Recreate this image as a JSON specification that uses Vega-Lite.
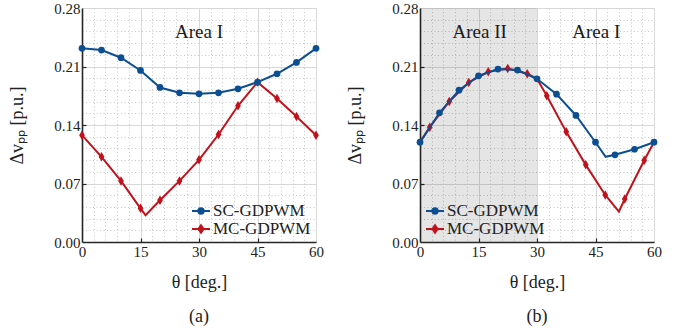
{
  "$schema": "https://vega.github.io/schema/vega-lite/v6.json",
  "background": "white",
  "padding": {"left": 8, "top": 0, "right": 5, "bottom": 5},
  "config": {
    "font": "Liberation Serif",
    "style": {
      "guide-label": {"font": "Liberation Serif"},
      "guide-title": {"font": "Liberation Serif"}
    },
    "view": {"stroke": "#d4d4d4", "strokeWidth": 1},
    "axis": {
      "labelFont": "Liberation Serif",
      "labelFontSize": 15,
      "labelColor": "#222222",
      "labelOverlap": false,
      "labelFlush": false,
      "titleFont": "Liberation Serif",
      "titleFontSize": 18,
      "titleFontWeight": "normal",
      "titleColor": "#222222",
      "domainColor": "#262626",
      "domainWidth": 1.6,
      "tickColor": "#262626",
      "tickWidth": 1.2,
      "tickSize": -4,
      "labelPadding": 6,
      "grid": true,
      "gridWidth": 1
    },
    "legend": {
      "labelFont": "Liberation Serif",
      "labelFontSize": 17,
      "labelColor": "#222222",
      "symbolSize": 324,
      "rowPadding": 0,
      "padding": 0,
      "labelOffset": 2
    },
    "title": {"font": "Liberation Serif", "fontSize": 18, "fontWeight": "normal", "color": "#222222"}
  },
  "datasets": {
    "curvesA": [
      {"series": "SC-GDPWM", "theta": 0, "dv": 0.2317, "marker": true},
      {"series": "SC-GDPWM", "theta": 5, "dv": 0.2297, "marker": true},
      {"series": "SC-GDPWM", "theta": 10, "dv": 0.2205, "marker": true},
      {"series": "SC-GDPWM", "theta": 15, "dv": 0.2053, "marker": true},
      {"series": "SC-GDPWM", "theta": 20, "dv": 0.1849, "marker": true},
      {"series": "SC-GDPWM", "theta": 25, "dv": 0.1785, "marker": true},
      {"series": "SC-GDPWM", "theta": 30, "dv": 0.1773, "marker": true},
      {"series": "SC-GDPWM", "theta": 35, "dv": 0.1785, "marker": true},
      {"series": "SC-GDPWM", "theta": 40, "dv": 0.1833, "marker": true},
      {"series": "SC-GDPWM", "theta": 45, "dv": 0.1913, "marker": true},
      {"series": "SC-GDPWM", "theta": 50, "dv": 0.2013, "marker": true},
      {"series": "SC-GDPWM", "theta": 55, "dv": 0.2149, "marker": true},
      {"series": "SC-GDPWM", "theta": 60, "dv": 0.2317, "marker": true},
      {"series": "MC-GDPWM", "theta": 0, "dv": 0.1278, "marker": true},
      {"series": "MC-GDPWM", "theta": 5, "dv": 0.1019, "marker": true},
      {"series": "MC-GDPWM", "theta": 10, "dv": 0.0731, "marker": true},
      {"series": "MC-GDPWM", "theta": 15, "dv": 0.0403, "marker": true},
      {"series": "MC-GDPWM", "theta": 16.3, "dv": 0.032, "marker": false},
      {"series": "MC-GDPWM", "theta": 20, "dv": 0.0499, "marker": true},
      {"series": "MC-GDPWM", "theta": 25, "dv": 0.0731, "marker": true},
      {"series": "MC-GDPWM", "theta": 30, "dv": 0.0983, "marker": true},
      {"series": "MC-GDPWM", "theta": 35, "dv": 0.1286, "marker": true},
      {"series": "MC-GDPWM", "theta": 40, "dv": 0.163, "marker": true},
      {"series": "MC-GDPWM", "theta": 45, "dv": 0.1913, "marker": true},
      {"series": "MC-GDPWM", "theta": 50, "dv": 0.1718, "marker": true},
      {"series": "MC-GDPWM", "theta": 55, "dv": 0.1502, "marker": true},
      {"series": "MC-GDPWM", "theta": 60, "dv": 0.1278, "marker": true}
    ],
    "curvesB": [
      {"series": "SC-GDPWM", "theta": 0, "dv": 0.1194, "marker": true},
      {"series": "SC-GDPWM", "theta": 5, "dv": 0.1546, "marker": true},
      {"series": "SC-GDPWM", "theta": 10, "dv": 0.1817, "marker": true},
      {"series": "SC-GDPWM", "theta": 15, "dv": 0.1989, "marker": true},
      {"series": "SC-GDPWM", "theta": 20, "dv": 0.2069, "marker": true},
      {"series": "SC-GDPWM", "theta": 25, "dv": 0.2057, "marker": true},
      {"series": "SC-GDPWM", "theta": 30, "dv": 0.1953, "marker": true},
      {"series": "SC-GDPWM", "theta": 35, "dv": 0.1769, "marker": true},
      {"series": "SC-GDPWM", "theta": 40, "dv": 0.1514, "marker": true},
      {"series": "SC-GDPWM", "theta": 45, "dv": 0.1194, "marker": true},
      {"series": "SC-GDPWM", "theta": 47.6, "dv": 0.1019, "marker": false},
      {"series": "SC-GDPWM", "theta": 50, "dv": 0.1043, "marker": true},
      {"series": "SC-GDPWM", "theta": 55, "dv": 0.111, "marker": true},
      {"series": "SC-GDPWM", "theta": 60, "dv": 0.1194, "marker": true},
      {"series": "MC-GDPWM", "theta": 0, "dv": 0.1194, "marker": false},
      {"series": "MC-GDPWM", "theta": 2.5, "dv": 0.1374, "marker": true},
      {"series": "MC-GDPWM", "theta": 7.5, "dv": 0.1682, "marker": true},
      {"series": "MC-GDPWM", "theta": 12.5, "dv": 0.1909, "marker": true},
      {"series": "MC-GDPWM", "theta": 17.5, "dv": 0.2037, "marker": true},
      {"series": "MC-GDPWM", "theta": 22.5, "dv": 0.2077, "marker": true},
      {"series": "MC-GDPWM", "theta": 27.5, "dv": 0.2013, "marker": true},
      {"series": "MC-GDPWM", "theta": 30, "dv": 0.1953, "marker": false},
      {"series": "MC-GDPWM", "theta": 32.5, "dv": 0.1749, "marker": true},
      {"series": "MC-GDPWM", "theta": 37.5, "dv": 0.1318, "marker": true},
      {"series": "MC-GDPWM", "theta": 42.5, "dv": 0.0923, "marker": true},
      {"series": "MC-GDPWM", "theta": 47.5, "dv": 0.0563, "marker": true},
      {"series": "MC-GDPWM", "theta": 51, "dv": 0.0363, "marker": false},
      {"series": "MC-GDPWM", "theta": 52.5, "dv": 0.0515, "marker": true},
      {"series": "MC-GDPWM", "theta": 57.5, "dv": 0.0979, "marker": true},
      {"series": "MC-GDPWM", "theta": 60, "dv": 0.1194, "marker": false}
    ],
    "labelsA": [{"theta": 30, "dv": 0.251, "label": "Area I"}],
    "labelsB": [
      {"theta": 15.3, "dv": 0.251, "label": "Area II"},
      {"theta": 45.2, "dv": 0.251, "label": "Area I"}
    ],
    "bandB": [{"from": 0, "to": 30}]
  },
  "resolve": {"legend": {"color": "independent"}},
  "spacing": 22,
  "hconcat": [
    {
      "width": 234,
      "height": 234,
      "title": {"text": "(a)", "orient": "bottom", "offset": 17},
      "layer": [
        {
          "data": {"name": "curvesA"},
          "transform": [{"filter": "datum.series === 'MC-GDPWM'"}],
          "mark": {"type": "line", "strokeWidth": 2},
          "encoding": {
            "x": {
              "field": "theta", "type": "quantitative", "title": "θ [deg.]",
              "scale": {"domain": [0, 60], "nice": false},
              "axis": {
                "values": [0, 3, 6, 9, 12, 15, 18, 21, 24, 27, 30, 33, 36, 39, 42, 45, 48, 51, 54, 57, 60],
                "tickCount": 40,
                "labelOverlap": false,
                "labelFont": "Liberation Serif",
                "titleFont": "Liberation Serif",
                "labelExpr": "indexof([0, 15, 30, 45, 60], datum.value) >= 0 ? datum.label : ''",
                "tickOpacity": {"condition": {"test": "indexof([15, 30, 45], datum.value) >= 0", "value": 1}, "value": 0},
                "gridDash": {"condition": {"test": "indexof([0, 15, 30, 45, 60], datum.value) >= 0", "value": []}, "value": [1, 2.5]},
                "gridColor": {"condition": {"test": "indexof([0, 15, 30, 45, 60], datum.value) >= 0", "value": "#d8d8d8"}, "value": "#c8c8c8"},
                "titlePadding": 14
              }
            },
            "y": {
              "field": "dv", "type": "quantitative", "title": "Δvₚₚ [p.u.]",
              "scale": {"domain": [0, 0.28], "nice": false},
              "axis": {
                "values": [0, 0.014, 0.028, 0.042, 0.056, 0.07, 0.084, 0.098, 0.112, 0.126, 0.14, 0.154, 0.168, 0.182, 0.196, 0.21, 0.224, 0.238, 0.252, 0.266, 0.28],
                "tickCount": 40,
                "format": ".2f",
                "labelOverlap": false,
                "labelFont": "Liberation Serif",
                "titleFont": "Liberation Serif",
                "labelExpr": "indexof([0, 0.07, 0.14, 0.21, 0.28], datum.value) >= 0 ? datum.label : ''",
                "tickOpacity": {"condition": {"test": "indexof([0.07, 0.14, 0.21], datum.value) >= 0", "value": 1}, "value": 0},
                "gridDash": {"condition": {"test": "indexof([0, 0.07, 0.14, 0.21, 0.28], datum.value) >= 0", "value": []}, "value": [1, 2.5]},
                "gridColor": {"condition": {"test": "indexof([0, 0.07, 0.14, 0.21, 0.28], datum.value) >= 0", "value": "#d8d8d8"}, "value": "#c8c8c8"},
                "titlePadding": 27
              }
            },
            "color": {
              "field": "series", "type": "nominal",
              "scale": {"domain": ["SC-GDPWM", "MC-GDPWM"], "range": ["#0c4e92", "#c1121c"]},
              "legend": {
                "orient": "bottom-right", "title": null, "offset": 5,
                "encode": {
                  "symbols": {
                    "update": {
                      "shape": {"signal": "datum.value === 'SC-GDPWM' ? 'M-1,0H1M0.3,0A0.3,0.3 0 1 1 -0.3,0A0.3,0.3 0 1 1 0.3,0Z' : 'M-1,0H1M0,-0.42L0.28,0L0,0.42L-0.28,0Z'"},
                      "fill": {"signal": "datum.value === 'SC-GDPWM' ? '#0c4e92' : '#c1121c'"},
                      "stroke": {"signal": "datum.value === 'SC-GDPWM' ? '#0c4e92' : '#c1121c'"},
                      "strokeWidth": {"value": 2},
                      "opacity": {"value": 1}
                    }
                  }
                }
              }
            }
          }
        },
        {
          "data": {"name": "curvesA"},
          "transform": [{"filter": "datum.series === 'MC-GDPWM' && datum.marker"}],
          "mark": {"type": "point", "filled": true, "opacity": 1, "shape": "M0,-1L0.6,0L0,1L-0.6,0Z", "size": 90},
          "encoding": {
            "x": {"field": "theta", "type": "quantitative"},
            "y": {"field": "dv", "type": "quantitative"},
            "color": {"field": "series", "type": "nominal"}
          }
        },
        {
          "data": {"name": "curvesA"},
          "transform": [{"filter": "datum.series === 'SC-GDPWM'"}],
          "mark": {"type": "line", "strokeWidth": 2},
          "encoding": {
            "x": {"field": "theta", "type": "quantitative"},
            "y": {"field": "dv", "type": "quantitative"},
            "color": {"field": "series", "type": "nominal"}
          }
        },
        {
          "data": {"name": "curvesA"},
          "transform": [{"filter": "datum.series === 'SC-GDPWM' && datum.marker"}],
          "mark": {"type": "point", "filled": true, "opacity": 1, "shape": "circle", "size": 45},
          "encoding": {
            "x": {"field": "theta", "type": "quantitative"},
            "y": {"field": "dv", "type": "quantitative"},
            "color": {"field": "series", "type": "nominal"}
          }
        },
        {
          "data": {"name": "labelsA"},
          "mark": {"type": "text", "fontSize": 19, "font": "Liberation Serif", "color": "#1a1a1a"},
          "encoding": {
            "x": {"field": "theta", "type": "quantitative"},
            "y": {"field": "dv", "type": "quantitative"},
            "text": {"field": "label"}
          }
        }
      ]
    },
    {
      "width": 234,
      "height": 234,
      "title": {"text": "(b)", "orient": "bottom", "offset": 17},
      "layer": [
        {
          "data": {"name": "bandB"},
          "mark": {"type": "rect", "color": "#000000", "opacity": 0.1},
          "encoding": {
            "x": {"field": "from", "type": "quantitative"},
            "x2": {"field": "to"}
          }
        },
        {
          "data": {"name": "curvesB"},
          "transform": [{"filter": "datum.series === 'MC-GDPWM'"}],
          "mark": {"type": "line", "strokeWidth": 2},
          "encoding": {
            "x": {
              "field": "theta", "type": "quantitative", "title": "θ [deg.]",
              "scale": {"domain": [0, 60], "nice": false},
              "axis": {
                "values": [0, 3, 6, 9, 12, 15, 18, 21, 24, 27, 30, 33, 36, 39, 42, 45, 48, 51, 54, 57, 60],
                "tickCount": 40,
                "labelOverlap": false,
                "labelFont": "Liberation Serif",
                "titleFont": "Liberation Serif",
                "labelExpr": "indexof([0, 15, 30, 45, 60], datum.value) >= 0 ? datum.label : ''",
                "tickOpacity": {"condition": {"test": "indexof([15, 30, 45], datum.value) >= 0", "value": 1}, "value": 0},
                "gridDash": {"condition": {"test": "indexof([0, 15, 30, 45, 60], datum.value) >= 0", "value": []}, "value": [1, 2.5]},
                "gridColor": {"condition": {"test": "indexof([0, 15, 30, 45, 60], datum.value) >= 0", "value": "#d8d8d8"}, "value": "#c8c8c8"},
                "titlePadding": 14
              }
            },
            "y": {
              "field": "dv", "type": "quantitative", "title": "Δvₚₚ [p.u.]",
              "scale": {"domain": [0, 0.28], "nice": false},
              "axis": {
                "values": [0, 0.014, 0.028, 0.042, 0.056, 0.07, 0.084, 0.098, 0.112, 0.126, 0.14, 0.154, 0.168, 0.182, 0.196, 0.21, 0.224, 0.238, 0.252, 0.266, 0.28],
                "tickCount": 40,
                "format": ".2f",
                "labelOverlap": false,
                "labelFont": "Liberation Serif",
                "titleFont": "Liberation Serif",
                "labelExpr": "indexof([0, 0.07, 0.14, 0.21, 0.28], datum.value) >= 0 ? datum.label : ''",
                "tickOpacity": {"condition": {"test": "indexof([0.07, 0.14, 0.21], datum.value) >= 0", "value": 1}, "value": 0},
                "gridDash": {"condition": {"test": "indexof([0, 0.07, 0.14, 0.21, 0.28], datum.value) >= 0", "value": []}, "value": [1, 2.5]},
                "gridColor": {"condition": {"test": "indexof([0, 0.07, 0.14, 0.21, 0.28], datum.value) >= 0", "value": "#d8d8d8"}, "value": "#c8c8c8"},
                "titlePadding": 27
              }
            },
            "color": {
              "field": "series", "type": "nominal",
              "scale": {"domain": ["SC-GDPWM", "MC-GDPWM"], "range": ["#0c4e92", "#c1121c"]},
              "legend": {
                "orient": "bottom-left", "title": null, "offset": 5,
                "encode": {
                  "symbols": {
                    "update": {
                      "shape": {"signal": "datum.value === 'SC-GDPWM' ? 'M-1,0H1M0.3,0A0.3,0.3 0 1 1 -0.3,0A0.3,0.3 0 1 1 0.3,0Z' : 'M-1,0H1M0,-0.42L0.28,0L0,0.42L-0.28,0Z'"},
                      "fill": {"signal": "datum.value === 'SC-GDPWM' ? '#0c4e92' : '#c1121c'"},
                      "stroke": {"signal": "datum.value === 'SC-GDPWM' ? '#0c4e92' : '#c1121c'"},
                      "strokeWidth": {"value": 2},
                      "opacity": {"value": 1}
                    }
                  }
                }
              }
            }
          }
        },
        {
          "data": {"name": "curvesB"},
          "transform": [{"filter": "datum.series === 'MC-GDPWM' && datum.marker"}],
          "mark": {"type": "point", "filled": true, "opacity": 1, "shape": "M0,-1L0.6,0L0,1L-0.6,0Z", "size": 90},
          "encoding": {
            "x": {"field": "theta", "type": "quantitative"},
            "y": {"field": "dv", "type": "quantitative"},
            "color": {"field": "series", "type": "nominal"}
          }
        },
        {
          "data": {"name": "curvesB"},
          "transform": [{"filter": "datum.series === 'SC-GDPWM'"}],
          "mark": {"type": "line", "strokeWidth": 2},
          "encoding": {
            "x": {"field": "theta", "type": "quantitative"},
            "y": {"field": "dv", "type": "quantitative"},
            "color": {"field": "series", "type": "nominal"}
          }
        },
        {
          "data": {"name": "curvesB"},
          "transform": [{"filter": "datum.series === 'SC-GDPWM' && datum.marker"}],
          "mark": {"type": "point", "filled": true, "opacity": 1, "shape": "circle", "size": 45},
          "encoding": {
            "x": {"field": "theta", "type": "quantitative"},
            "y": {"field": "dv", "type": "quantitative"},
            "color": {"field": "series", "type": "nominal"}
          }
        },
        {
          "data": {"name": "labelsB"},
          "mark": {"type": "text", "fontSize": 19, "font": "Liberation Serif", "color": "#1a1a1a"},
          "encoding": {
            "x": {"field": "theta", "type": "quantitative"},
            "y": {"field": "dv", "type": "quantitative"},
            "text": {"field": "label"}
          }
        }
      ]
    }
  ]
}
